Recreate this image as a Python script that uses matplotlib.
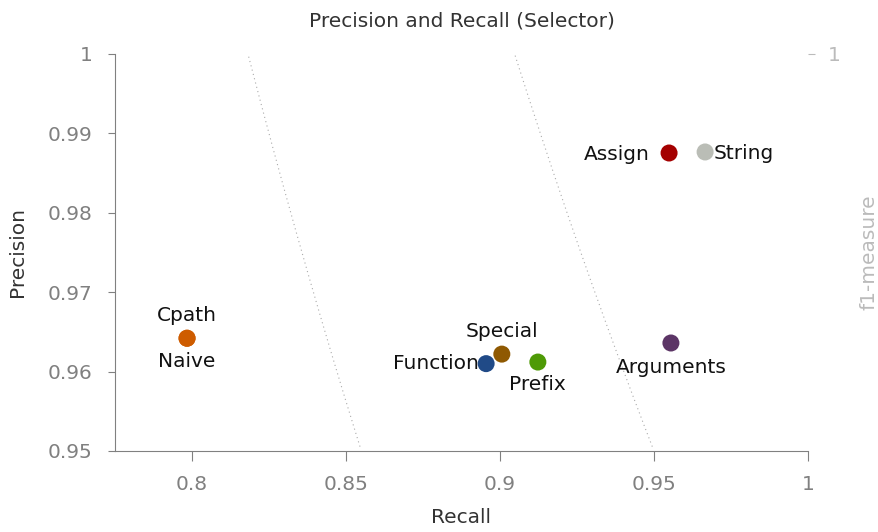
import numpy as np
import matplotlib
matplotlib.use("Agg")
import matplotlib.pyplot as plt

# data
names = ["Naive", "Cpath", "Function", "Special", "Prefix", "Arguments", "Assign", "String"]
recall = [0.7984, 0.7984, 0.8955, 0.9006, 0.9123, 0.9555, 0.9549, 0.9666]
precision = [0.9642, 0.9642, 0.9610, 0.9622, 0.9612, 0.9636, 0.98753, 0.98766]
colors = ["#ce5c00", "#ce5c00", "#204a87", "#8f5902", "#4e9a06", "#5c3566", "#a40000", "#babdb6"]
f1_levels = [0.85, 0.9, 0.95]

# label placement: (dx, dy in points, ha)
label_pos = {
    "Naive": (0, -17, "center"),
    "Cpath": (0, 16.5, "center"),
    "Function": (-5.5, 0, "right"),
    "Special": (0, 16.5, "center"),
    "Prefix": (0, -16.5, "center"),
    "Arguments": (0, -18, "center"),
    "Assign": (-14, -1, "right"),
    "String": (6, -1, "left"),
}

fig = plt.figure(figsize=(8.79, 5.32), dpi=100)
ax = fig.add_axes([0.1308, 0.1523, 0.7884, 0.7462])

# iso-f1 curves
for f in f1_levels:
    r = np.linspace(f / 2 + 1e-6, 1.0, 2000)
    p = f * r / (2 * r - f)
    ok = (p <= 1.0) & (p >= 0.95)
    ax.plot(r[ok], p[ok], ls=(0, (1, 3)), color="#aaaaaa", lw=0.8, zorder=1)

ax.scatter(recall, precision, s=150, c=colors, zorder=3, edgecolors="none")
for n, r, p in zip(names, recall, precision):
    dx, dy, ha = label_pos[n]
    ax.annotate(n, (r, p), xytext=(dx, dy), textcoords="offset points",
                ha=ha, va="center", fontsize=14.5, color="#111111")

ax.set_xlim(0.775, 1.0)
ax.set_ylim(0.95, 1.0)
ax.set_xticks([0.8, 0.85, 0.9, 0.95, 1.0])
ax.set_xticklabels(["0.8", "0.85", "0.9", "0.95", "1"])
ax.set_yticks([0.95, 0.96, 0.97, 0.98, 0.99, 1.0])
ax.set_yticklabels(["0.95", "0.96", "0.97", "0.98", "0.99", "1"])
for s in ["top", "right"]:
    ax.spines[s].set_visible(False)
for s in ["left", "bottom"]:
    ax.spines[s].set_color("#808080")
ax.tick_params(colors="#808080", labelsize=14.5)
ax.tick_params(axis="y", length=5, pad=11)
ax.tick_params(axis="x", length=7, pad=10)
ax.set_xlabel("Recall", fontsize=14.5, color="#333333")
ax.set_ylabel("Precision", fontsize=14.5, color="#333333")
ax.xaxis.set_label_coords(0.5, -57 / 397, transform=ax.transAxes)
ax.yaxis.set_label_coords(-88 / 693, 0.5, transform=ax.transAxes)
ax.set_title("Precision and Recall (Selector)", fontsize=14.5, color="#333333", pad=20)

ax2 = ax.twinx()
ax2.set_ylim(0.95, 1.0)
ax2.set_yticks([1.0])
ax2.set_yticklabels(["1"])
for s in ax2.spines.values():
    s.set_visible(False)
ax2.tick_params(colors="#bbbbbb", labelsize=14.5, length=5, pad=9)
ax2.set_ylabel("f1-measure", fontsize=14.5, color="#bbbbbb")
ax2.yaxis.set_label_coords(1 + 52 / 693, 0.5, transform=ax2.transAxes)

fig.savefig("out.png", dpi=100)
